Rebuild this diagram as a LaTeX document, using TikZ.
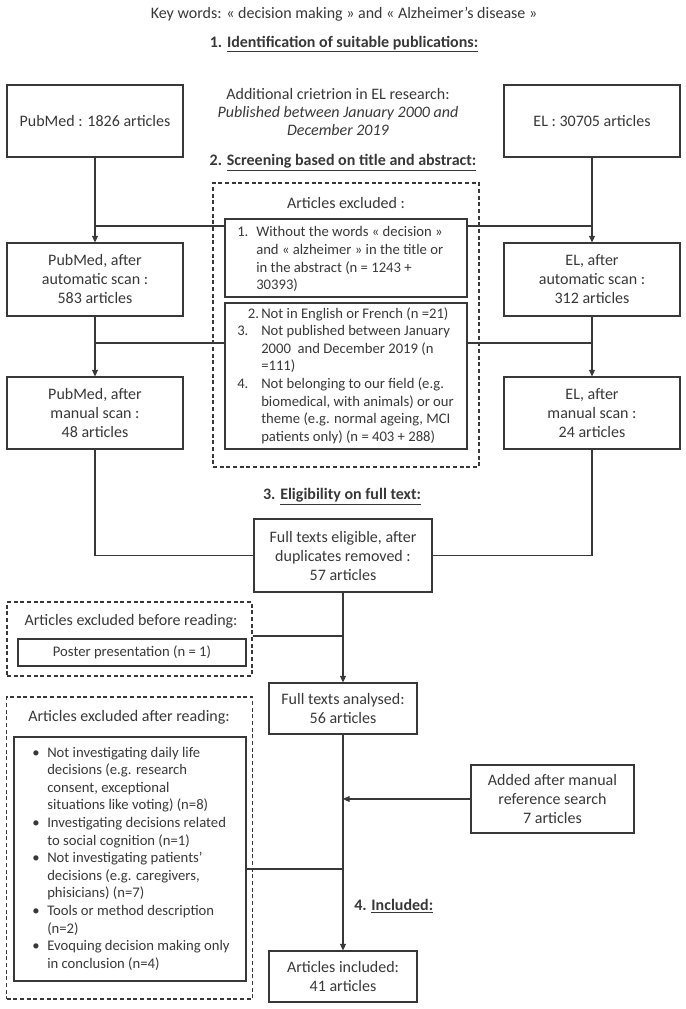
\documentclass[tikz,border=0pt]{standalone}
\usepackage{fontspec}
\setmainfont{Carlito}
\usetikzlibrary{arrows.meta}
\definecolor{ink}{HTML}{383838}
\newcommand\mainsz{\fontsize{12pt}{14.25pt}\selectfont}
\newcommand\listsz{\fontsize{11pt}{13.2pt}\selectfont}
\newcommand\titlesz{\fontsize{12pt}{14.25pt}\selectfont\bfseries}
\begin{document}
\begin{tikzpicture}[x=0.75pt,y=-0.75pt,
  every node/.style={text=ink},
  box/.style={draw=ink,line width=0.8pt,inner sep=0pt,align=center,font=\mainsz},
  dbox/.style={draw=ink,line width=0.8pt,dash pattern=on 3pt off 2pt,inner sep=0pt},
  lbl/.style={inner sep=0pt,align=center,font=\mainsz},
  ttl/.style={inner sep=0pt,font=\titlesz},
  lst/.style={inner sep=0pt,anchor=base west,font=\listsz},
  conn/.style={draw=ink,line width=0.8pt},
  arr/.style={conn,-{Triangle[length=5pt,width=4.5pt]}}]
\useasboundingbox (0,0) rectangle (685,1009);

% headings and free text
\node[lbl] (kw) at (344,14) {Key words: « decision making » and « Alzheimer’s disease »};
\node[ttl] (t1) at (344,44) {1. \underline{Identification of suitable publications:}};
\node[lbl,font=\fontsize{12pt}{13.5pt}\selectfont] (add) at (338,112) {Additional crietrion in EL research:\\ \textit{Published between January 2000 and}\\ \textit{December 2019}};
\node[ttl] (t2) at (343,163) {2. \underline{Screening based on title and abstract:}};
\node[ttl] (t3) at (342,497) {3. \underline{Eligibility on full text:}};
\node[ttl,anchor=west] (t4) at (354,906) {4. \underline{Included:}};

% source boxes
\node[box,minimum width=132pt,minimum height=54pt] (pub1) at (95,121) {PubMed : 1826 articles};
\node[box,minimum width=132pt,minimum height=54pt] (el1) at (592,121) {EL : 30705 articles};
\node[box,minimum width=132pt,minimum height=54.75pt] (pub2) at (95,279.5) {PubMed, after\\automatic scan :\\583 articles};
\node[box,minimum width=132pt,minimum height=54.75pt] (el2) at (592,279.5) {EL, after\\automatic scan :\\312 articles};
\node[box,minimum width=132pt,minimum height=54pt] (pub3) at (95,413) {PubMed, after\\manual scan :\\48 articles};
\node[box,minimum width=132pt,minimum height=54pt] (el3) at (592,413) {EL, after\\manual scan :\\24 articles};

% screening exclusions
\node[dbox,minimum width=199.5pt,minimum height=213pt] (d1) at (346,325) {};
\node[lbl] (d1t) at (346,203) {Articles excluded :};
\node[box,minimum width=181.5pt,minimum height=58.5pt] (ex1) at (346,258) {};
\node[lst] (ex1t) at (237,237) {\begin{tabular}[t]{@{}l@{}}
\makebox[14.25pt][l]{1.}Without the words « decision »\\
\hspace*{14.25pt}and « alzheimer » in the title or\\
\hspace*{14.25pt}in the abstract (n = 1243 +\\
\hspace*{14.25pt}30393)\end{tabular}};
\node[box,minimum width=181.5pt,minimum height=109.5pt] (ex2) at (346,376) {};
\node[lst] (ex2t) at (237,318) {\begin{tabular}[t]{@{}l@{}}
\hspace*{8pt}\makebox[10pt][l]{2.}Not in English or French (n =21)\\
\makebox[18pt][l]{3.}Not published between January\\
\hspace*{18pt}2000~ and December 2019 (n\\
\hspace*{18pt}=111)\\
\makebox[18pt][l]{4.}Not belonging to our field (e.g.\\
\hspace*{18pt}biomedical, with animals) or our\\
\hspace*{18pt}theme (e.g. normal ageing, MCI\\
\hspace*{18pt}patients only) (n = 403 + 288)\end{tabular}};

% eligibility
\node[box,minimum width=133.5pt,minimum height=54.75pt] (elig) at (343,555.5) {Full texts eligible, after\\duplicates removed :\\57 articles};
\node[dbox,minimum width=183.75pt,minimum height=55.5pt] (d2) at (129.5,639) {};
\node[lbl] (d2t) at (131,621) {Articles excluded before reading:};
\node[box,font=\listsz,minimum width=171pt,minimum height=20.25pt] (poster) at (132,652.5) {Poster presentation (n = 1)};
\node[box,minimum width=111pt,minimum height=38.25pt] (anal) at (343,708.5) {Full texts analysed:\\56 articles};
\node[dbox,minimum width=184.5pt,minimum height=226.5pt] (d3) at (129.5,848) {};
\node[lbl] (d3t) at (129,717) {Articles excluded after reading:};
\node[box,minimum width=174pt,minimum height=183pt] (exlist) at (130,859) {};
\node[lst] (exlt) at (32,757) {\begin{tabular}[t]{@{}l@{}}
\makebox[11.25pt][l]{•}Not investigating daily life\\
\hspace*{11.25pt}decisions (e.g. research\\
\hspace*{11.25pt}consent, exceptional\\
\hspace*{11.25pt}situations like voting) (n=8)\\
\makebox[11.25pt][l]{•}Investigating decisions related\\
\hspace*{11.25pt}to social cognition (n=1)\\
\makebox[11.25pt][l]{•}Not investigating patients’\\
\hspace*{11.25pt}decisions (e.g. caregivers,\\
\hspace*{11.25pt}phisicians) (n=7)\\
\makebox[11.25pt][l]{•}Tools or method description\\
\hspace*{11.25pt}(n=2)\\
\makebox[11.25pt][l]{•}Evoquing decision making only\\
\hspace*{11.25pt}in conclusion (n=4)\end{tabular}};
\node[box,minimum width=122.25pt,minimum height=51pt] (added) at (552.5,799) {Added after manual\\reference search\\7 articles};
\node[box,minimum width=111pt,minimum height=38.25pt] (incl) at (343,976.5) {Articles included:\\41 articles};

% junctions
\coordinate (j1l) at (95,226);
\coordinate (j1r) at (592,226);
\coordinate (j2l) at (95,343);
\coordinate (j2r) at (592,343);
\coordinate (j3) at (343,636);
\coordinate (j4) at (343,869);
\coordinate (j5) at (343,799);

% connectors
\draw[arr] (pub1) -- (pub2);
\draw[arr] (pub2) -- (pub3);
\draw[arr] (el1) -- (el2);
\draw[arr] (el2) -- (el3);
\draw[conn] (ex1.west |- j1l) -- (j1l);
\draw[conn] (ex1.east |- j1r) -- (j1r);
\draw[conn] (ex2.west |- j2l) -- (j2l);
\draw[conn] (ex2.east |- j2r) -- (j2r);
\draw[conn] (pub3.south) |- (elig.west);
\draw[conn] (el3.south) |- (elig.east);
\draw[arr] (elig) -- (anal);
\draw[conn] (d2.east |- j3) -- (j3);
\draw[arr] (anal) -- (incl);
\draw[conn] (exlist.east |- j4) -- (j4);
\draw[arr] (added.west) -- (j5);
\end{tikzpicture}
\end{document}
